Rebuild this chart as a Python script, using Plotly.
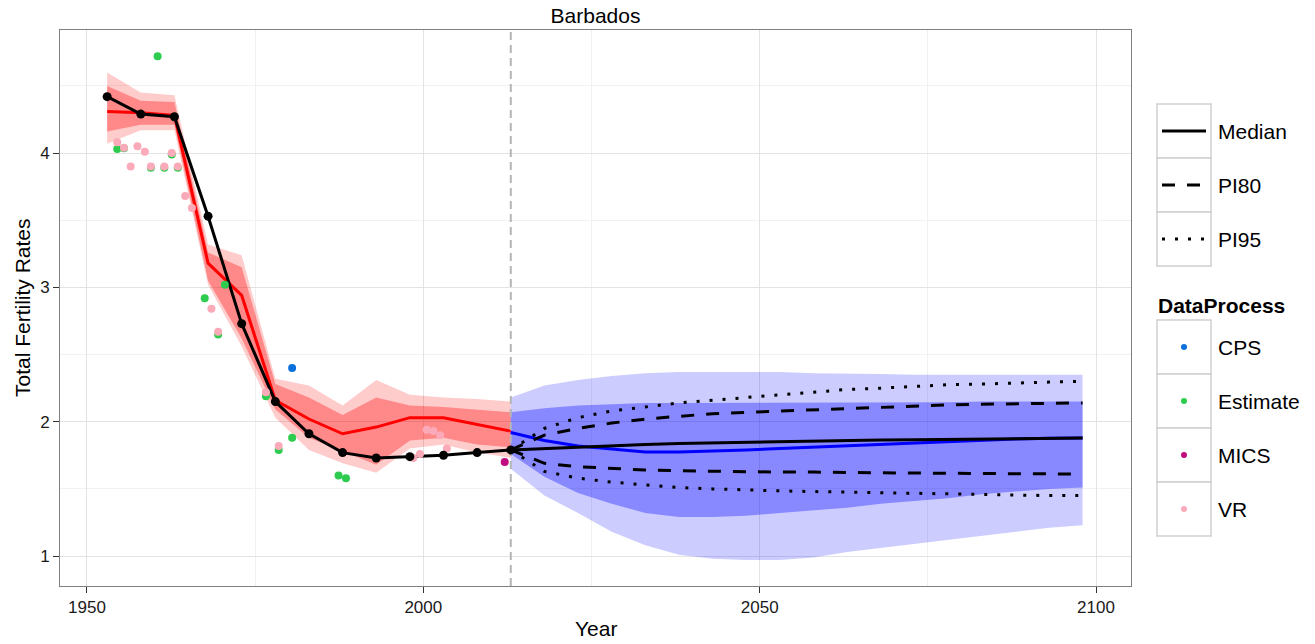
import plotly.graph_objects as go

# ---------------- data ----------------
# Estimation period (5-year periods, plotted at mid-period)
est_years = [1953, 1958, 1963, 1968, 1973, 1978, 1983, 1988, 1993, 1998, 2003, 2008, 2013]

# Model estimate (median and prediction intervals)
est_median = [4.31, 4.30, 4.28, 3.18, 2.94, 2.16, 2.02, 1.91, 1.96, 2.03, 2.03, 1.98, 1.93]
est_pi80_low = [4.16, 4.21, 4.21, 3.05, 2.62, 2.09, 1.88, 1.78, 1.68, 1.86, 1.88, 1.83, 1.81]
est_pi80_high = [4.50, 4.39, 4.38, 3.26, 3.15, 2.28, 2.18, 2.05, 2.18, 2.12, 2.11, 2.09, 2.07]
est_pi95_low = [4.07, 4.17, 4.17, 3.02, 2.56, 2.03, 1.79, 1.69, 1.62, 1.80, 1.83, 1.77, 1.73]
est_pi95_high = [4.60, 4.45, 4.43, 3.32, 3.24, 2.32, 2.27, 2.12, 2.31, 2.20, 2.18, 2.17, 2.15]

# Published median series for the estimation period
pub_median_est = [4.42, 4.29, 4.27, 3.53, 2.73, 2.15, 1.91, 1.77, 1.73, 1.74, 1.75, 1.77, 1.79]

# Projection period
proj_years = [2013, 2018, 2023, 2028, 2033, 2038, 2043, 2048, 2053,
              2058, 2063, 2068, 2073, 2078, 2083, 2088, 2093, 2098]

# Model projection
proj_median = [1.92, 1.86, 1.82, 1.80, 1.775, 1.775, 1.78, 1.79, 1.80,
               1.81, 1.82, 1.835, 1.845, 1.855, 1.865, 1.872, 1.876, 1.878]
proj_pi80_low = [1.76, 1.59, 1.47, 1.39, 1.32, 1.29, 1.29, 1.30, 1.32,
                 1.34, 1.36, 1.39, 1.41, 1.43, 1.46, 1.48, 1.50, 1.51]
proj_pi80_high = [2.07, 2.10, 2.12, 2.13, 2.14, 2.14, 2.14, 2.14, 2.14,
                  2.14, 2.14, 2.14, 2.145, 2.145, 2.15, 2.15, 2.15, 2.15]
proj_pi95_low = [1.65, 1.45, 1.32, 1.18, 1.08, 1.01, 0.98, 0.97, 0.97,
                 0.99, 1.03, 1.06, 1.09, 1.12, 1.15, 1.18, 1.21, 1.23]
proj_pi95_high = [2.18, 2.27, 2.31, 2.34, 2.36, 2.37, 2.37, 2.37, 2.37,
                  2.36, 2.36, 2.355, 2.35, 2.35, 2.35, 2.35, 2.35, 2.35]

# Published projection: median and intervals
pub_median_proj = [1.79, 1.80, 1.815, 1.825, 1.83, 1.838, 1.843, 1.848, 1.853,
                   1.857, 1.86, 1.863, 1.866, 1.869, 1.872, 1.874, 1.876, 1.878]
pub_pi80_low = [1.79, 1.69, 1.665, 1.65, 1.64, 1.635, 1.63, 1.63, 1.625,
                1.625, 1.62, 1.62, 1.618, 1.616, 1.615, 1.613, 1.612, 1.61]
pub_pi80_high = [1.79, 1.90, 1.95, 1.99, 2.02, 2.04, 2.06, 2.07, 2.08,
                 2.09, 2.10, 2.11, 2.12, 2.125, 2.13, 2.135, 2.14, 2.14]
pub_pi95_low = [1.79, 1.63, 1.58, 1.55, 1.53, 1.51, 1.50, 1.49, 1.485,
                1.48, 1.475, 1.47, 1.47, 1.465, 1.46, 1.455, 1.45, 1.45]
pub_pi95_high = [1.79, 1.95, 2.03, 2.08, 2.11, 2.14, 2.16, 2.18, 2.20,
                 2.22, 2.24, 2.25, 2.265, 2.275, 2.28, 2.29, 2.295, 2.30]

# Observed data by data process
cps_year = [1980.5]
cps_tfr = [2.40]

estimate_year = [1954.5, 1955.5, 1959.5, 1960.5, 1961.5, 1962.6, 1963.5, 1967.5,
                 1969.5, 1970.5, 1976.6, 1978.5, 1980.5, 1987.4, 1988.5]
estimate_tfr = [4.03, 4.035, 3.89, 4.72, 3.89, 3.99, 3.89, 2.92,
                2.65, 3.02, 2.19, 1.79, 1.88, 1.60, 1.58]

mics_year = [2012.1]
mics_tfr = [1.70]

vr_year = [1954.5, 1955.5, 1956.5, 1957.5, 1958.6, 1959.5, 1961.5, 1962.6, 1963.5,
           1964.6, 1965.6, 1968.5, 1969.5, 1976.6, 1978.5, 1998.5, 1999.5,
           2000.5, 2001.5, 2002.5, 2003.5]
vr_tfr = [4.08, 4.04, 3.90, 4.05, 4.01, 3.90, 3.90, 4.00, 3.90,
          3.68, 3.59, 2.84, 2.67, 2.22, 1.82, 1.73, 1.76,
          1.94, 1.93, 1.90, 1.80]

x_ticks = [1950, 2000, 2050, 2100]
y_ticks = [1, 2, 3, 4]
x_range = [1945.99, 2105.2]
y_range = [0.777, 4.916]

process_names = ["CPS", "Estimate", "MICS", "VR"]
process_colors = ["#0A70DC", "#2DCB4E", "#C10C80", "#FAAAB8"]
line_names = ["Median", "PI80", "PI95"]

# ---------------- styles ----------------
FONT = "Liberation Sans, Arial, Helvetica, sans-serif"
W, H = 1315, 644
PL, PR, PT, PB = 60, 1131, 30, 586
DASH = "13px,12px"
DOT = "3px,10px"

fig = go.Figure()


def band(x, lo, hi, color):
    fig.add_trace(go.Scatter(x=x, y=hi, mode="lines", line=dict(width=0),
                             hoverinfo="skip", showlegend=False))
    fig.add_trace(go.Scatter(x=x, y=lo, mode="lines", line=dict(width=0),
                             fill="tonexty", fillcolor=color,
                             hoverinfo="skip", showlegend=False))


# prediction interval bands
band(est_years, est_pi95_low, est_pi95_high, "rgba(255,0,0,0.2)")
band(est_years, est_pi80_low, est_pi80_high, "rgba(255,0,0,0.33)")
band(proj_years, proj_pi95_low, proj_pi95_high, "rgba(0,0,255,0.2)")
band(proj_years, proj_pi80_low, proj_pi80_high, "rgba(0,0,255,0.33)")

# model medians
fig.add_trace(go.Scatter(x=est_years, y=est_median, mode="lines",
                         line=dict(color="#FF0000", width=3), showlegend=False))
fig.add_trace(go.Scatter(x=proj_years, y=proj_median, mode="lines",
                         line=dict(color="#0000FF", width=3), showlegend=False))

# boundary between estimation and projection
fig.add_trace(go.Scatter(x=[est_years[-1], est_years[-1]], y=y_range, mode="lines",
                         line=dict(color="#B5B5B5", width=2, dash="8px,5px"),
                         hoverinfo="skip", showlegend=False))

# published median (estimation period) line
fig.add_trace(go.Scatter(x=est_years, y=pub_median_est, mode="lines",
                         line=dict(color="black", width=3), showlegend=False))

# observed data
for xs, ys, col in [(cps_year, cps_tfr, process_colors[0]),
                    (estimate_year, estimate_tfr, process_colors[1]),
                    (mics_year, mics_tfr, process_colors[2]),
                    (vr_year, vr_tfr, process_colors[3])]:
    fig.add_trace(go.Scatter(x=xs, y=ys, mode="markers",
                             marker=dict(color=col, size=8, line=dict(width=0)),
                             showlegend=False))

# published projection with intervals
for ys, dash in [(pub_median_proj, "solid"), (pub_pi80_low, DASH), (pub_pi80_high, DASH),
                 (pub_pi95_low, DOT), (pub_pi95_high, DOT)]:
    fig.add_trace(go.Scatter(x=proj_years, y=ys, mode="lines",
                             line=dict(color="black", width=3, dash=dash),
                             showlegend=False))

# published median markers
fig.add_trace(go.Scatter(x=est_years, y=pub_median_est, mode="markers",
                         marker=dict(color="black", size=9), showlegend=False))


# ---------------- legend (drawn as keyed boxes) ----------------
def xp(v):
    return (v - PL) / (PR - PL)


def yp(v):
    return (PB - v) / (PB - PT)


shapes = []
annotations = []
box_l, box_r = 1157, 1211
row_h = 54


def key_box(top):
    shapes.append(dict(type="rect", xref="paper", yref="paper",
                       x0=xp(box_l), x1=xp(box_r), y0=yp(top + row_h), y1=yp(top),
                       line=dict(color="#D0D0D0", width=1.5), fillcolor="white",
                       layer="above"))


def key_label(text, yc, bold=False):
    annotations.append(dict(text=("<b>%s</b>" % text) if bold else text,
                            xref="paper", yref="paper", x=xp(1216 if not bold else 1156),
                            y=yp(yc), xanchor="left", yanchor="middle",
                            showarrow=False, font=dict(family=FONT, size=21, color="black")))


top1 = 104
for i, (name, dash) in enumerate(zip(line_names, ["solid", DASH, DOT])):
    t = top1 + i * row_h
    key_box(t)
    yc = t + row_h / 2
    shapes.append(dict(type="line", xref="paper", yref="paper",
                       x0=xp(1162), x1=xp(1206), y0=yp(yc), y1=yp(yc),
                       line=dict(color="black", width=3, dash=dash), layer="above"))
    key_label(name, yc)

key_label("DataProcess", 305, bold=True)
top2 = 320
for i, (name, col) in enumerate(zip(process_names, process_colors)):
    t = top2 + i * row_h
    key_box(t)
    yc = t + row_h / 2
    r = 3
    shapes.append(dict(type="circle", xref="paper", yref="paper",
                       x0=xp(1184 - r), x1=xp(1184 + r), y0=yp(yc + r), y1=yp(yc - r),
                       line=dict(width=0), fillcolor=col, layer="above"))
    key_label(name, yc)

# axis titles
annotations.append(dict(text="Year", xref="paper", yref="paper", x=0.5, y=yp(628),
                        xanchor="center", yanchor="middle", showarrow=False,
                        font=dict(family=FONT, size=21, color="black")))
annotations.append(dict(text="Total Fertility Rates", xref="paper", yref="paper",
                        x=xp(22), y=yp(308), xanchor="center", yanchor="middle",
                        textangle=-90, showarrow=False,
                        font=dict(family=FONT, size=21, color="black")))

axis_common = dict(showline=True, mirror=True, linecolor="#7F7F7F", linewidth=1,
                   ticks="outside", ticklen=6, tickcolor="#333333", tickwidth=1,
                   showgrid=True, gridcolor="#E3E3E3", gridwidth=1, zeroline=False,
                   tickfont=dict(family=FONT, size=17, color="#1A1A1A"))

fig.update_layout(
    width=W, height=H,
    margin=dict(l=PL, r=W - PR, t=PT, b=H - PB, autoexpand=False),
    paper_bgcolor="white", plot_bgcolor="white",
    showlegend=False,
    title=dict(text="Barbados", x=0.5, xref="paper", xanchor="center",
               y=1 - 16 / H, yref="container", yanchor="middle",
               font=dict(family=FONT, size=21, color="black")),
    xaxis=dict(range=x_range, tickvals=x_ticks, ticktext=[str(v) for v in x_ticks],
               minor=dict(dtick=25, tick0=1950, showgrid=True, gridcolor="#F1F1F1",
                          ticks=""),
               **axis_common),
    yaxis=dict(range=y_range, tickvals=y_ticks, ticktext=[str(v) for v in y_ticks],
               minor=dict(dtick=0.5, tick0=1, showgrid=True, gridcolor="#F1F1F1",
                          ticks=""),
               **axis_common),
    shapes=shapes,
    annotations=annotations,
)

fig.write_html("out.html")
